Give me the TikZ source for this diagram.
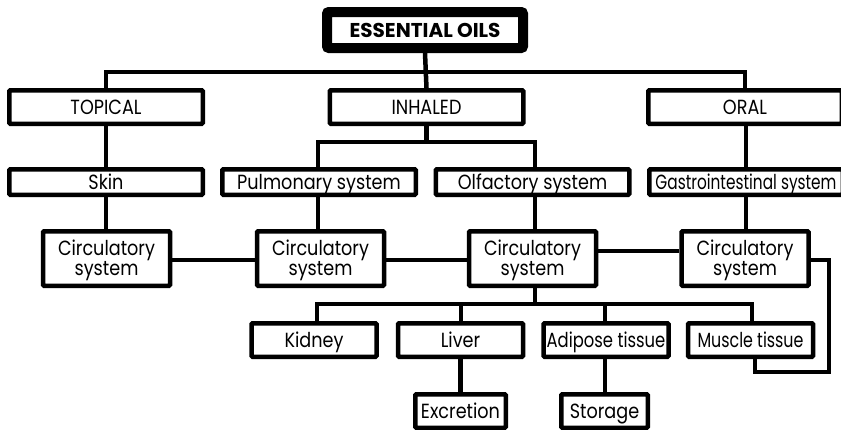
\documentclass[tikz,border=0pt]{standalone}
\usepackage{fontspec}
\setmainfont{Poppins}
\newfontfamily\boxfont{Poppins}[FakeStretch=0.86]
\begin{document}
\begin{tikzpicture}[x=1pt,y=-1pt,
  box/.style={draw=black, line width=4.5pt, fill=white, rectangle, rounded corners=1pt,
    inner sep=0pt, align=center, text height=14pt, text depth=0pt,
    font=\boxfont\fontsize{20.5}{20}\selectfont},
  wide/.style={box, minimum width=193.5pt, minimum height=33.5pt},
  mid/.style={box, minimum width=193.5pt, minimum height=25.5pt},
  circ/.style={box, minimum width=127pt, minimum height=54.5pt, text height=34pt, text depth=0pt},
  leaf/.style={box, minimum width=125pt, minimum height=33.5pt},
  conn/.style={line width=4.5pt, line join=miter}]
\useasboundingbox (0,0) rectangle (841,429);
\clip (0,0) rectangle (841,429);
% top
\node[box, line width=10pt, minimum width=196pt, minimum height=36pt, rounded corners=2pt,
  text height=14pt, font=\fontsize{20}{22}\selectfont\bfseries] (eo) at (425,30) {ESSENTIAL OILS};
% level 1
\node[wide] (top) at (106,107) {TOPICAL};
\node[wide] (inh) at (426.5,107) {INHALED};
\node[wide] (oral) at (745,107) {ORAL};
% level 2
\node[mid] (skin) at (106,182) {Skin};
\node[mid] (pul) at (319,182) {Pulmonary system};
\node[mid] (olf) at (532.5,182) {Olfactory system};
\node[mid] (gas) at (746,182) {\scalebox{0.87}[1]{Gastrointestinal system}};
% circulatory
\node[circ] (c1) at (106.5,258.5) {Circulatory\\system};
\node[circ] (c2) at (320.5,258.5) {Circulatory\\system};
\node[circ] (c3) at (532.5,258.5) {Circulatory\\system};
\node[circ] (c4) at (745,258.5) {Circulatory\\system};
% tissues
\node[leaf] (kid) at (314,340) {Kidney};
\node[leaf] (liv) at (460.5,340) {Liver};
\node[leaf] (adi) at (606,340) {\scalebox{0.93}[1]{Adipose tissue}};
\node[leaf] (mus) at (750.5,340) {\scalebox{0.9}[1]{Muscle tissue}};
% end points
\node[box, minimum width=90.5pt, minimum height=33.5pt] (exc) at (460.5,411) {Excretion};
\node[box, minimum width=86.5pt, minimum height=33.5pt] (sto) at (604.5,411) {Storage};
% connectors
\draw[conn] (eo.south) -- (inh.north);
\draw[conn] (top.north) -- ++(0,-16) -| (oral.north);
\draw[conn] (inh.south) -- ++(0,16) -| ([xshift=2.5pt]olf.north);
\draw[conn] (inh.south) ++(0,16) -| ([xshift=-1pt]pul.north);
\draw[conn] (top.south) -- (skin.north);
\draw[conn] ([xshift=1pt]oral.south) -- ([xshift=0pt]gas.north);
\draw[conn] (skin.south) -- (skin.south |- c1.north);
\draw[conn] ([xshift=-1pt]pul.south) -- ([xshift=-1pt]pul.south |- c2.north);
\draw[conn] ([xshift=2.5pt]olf.south) -- ([xshift=2.5pt]olf.south |- c3.north);
\draw[conn] (gas.south) -- (gas.south |- c4.north);
\draw[conn] ([yshift=-1.5pt]c1.east) -- ([yshift=-1.5pt]c1.east -| c2.west);
\draw[conn] ([yshift=-1.5pt]c2.east) -- ([yshift=-1.5pt]c2.east -| c3.west);
\draw[conn] ([yshift=7.5pt]c3.east) -- ([yshift=7.5pt]c3.east -| c4.west);
\draw[conn] ([yshift=-1.5pt]c4.east) -| ++(18,0) |- ([xshift=4.5pt]mus.south |- 0,372) -- ([xshift=4.5pt]mus.south);
\draw[conn] ([xshift=2.5pt]c3.south) -- ++(0,16);
\draw[conn] ([xshift=3pt]kid.north) -- ++(0,-17) -| ([xshift=1.5pt]mus.north);
\draw[conn] ([xshift=0.5pt]liv.north) -- ++(0,-17);
\draw[conn] ([xshift=-1pt]adi.north) -- ++(0,-17);
\draw[conn] (liv.south) -- (exc.north);
\draw[conn] ([xshift=-1pt]adi.south) -- ([xshift=-1pt]adi.south |- sto.north);
\end{tikzpicture}
\end{document}
